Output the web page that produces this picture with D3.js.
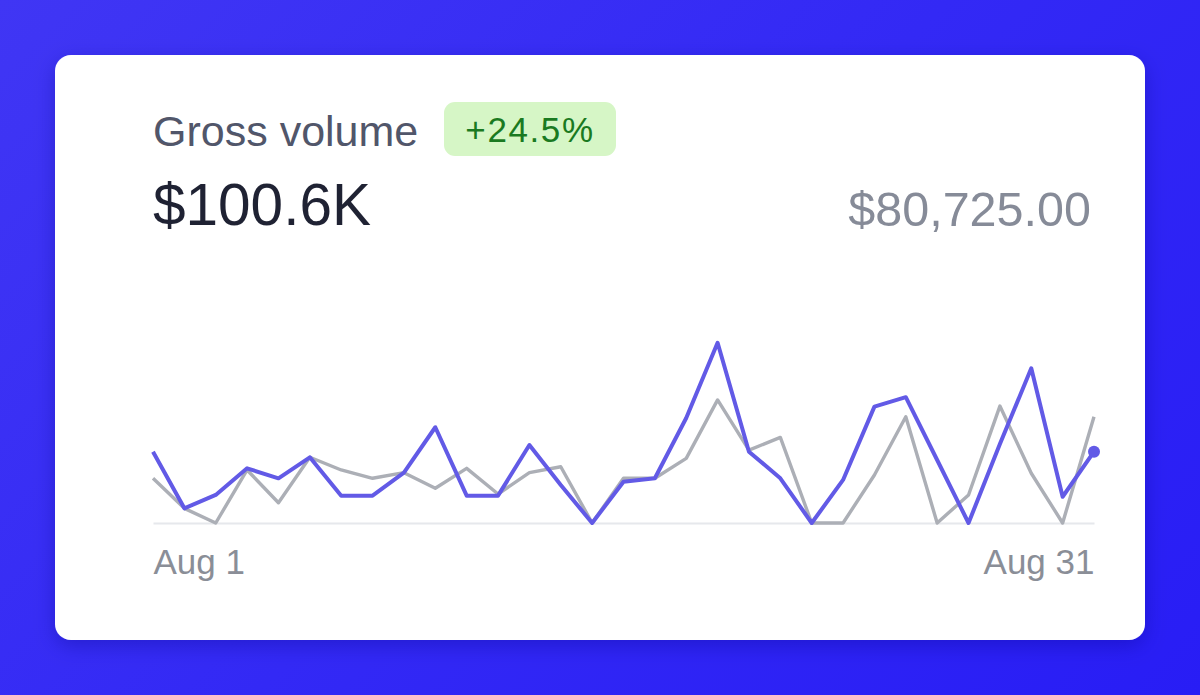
<!DOCTYPE html>
<html>
<head>
<meta charset="utf-8">
<script src="https://cdn.jsdelivr.net/npm/d3@7"></script>
<style>
  html, body { margin: 0; padding: 0; width: 1200px; height: 695px; overflow: hidden; }
  body { background: linear-gradient(135deg, #4036f4 0%, #3329f5 50%, #281df5 100%); }
  svg { display: block; font-family: "Liberation Sans", Arial, Helvetica, sans-serif; }
</style>
</head>
<body>
<svg id="chart" width="1200" height="695"></svg>
<script>
// ---- data ----
const dayLabels = ["Aug 1", "Aug 31"];
const days = ["Aug 1","Aug 2","Aug 3","Aug 4","Aug 5","Aug 6","Aug 7","Aug 8","Aug 9","Aug 10",
  "Aug 11","Aug 12","Aug 13","Aug 14","Aug 15","Aug 16","Aug 17","Aug 18","Aug 19","Aug 20",
  "Aug 21","Aug 22","Aug 23","Aug 24","Aug 25","Aug 26","Aug 27","Aug 28","Aug 29","Aug 30","Aug 31"];
const currentValues = [3940, 810, 1550, 3020, 2470, 3630, 1510, 1510, 2780, 5290,
  1510, 1510, 4310, 2100, 0, 2280, 2470, 5800, 9960, 3940,
  2470, 0, 2380, 6430, 6950, 3480, 0, 4360, 8550, 1450, 3940];
const previousValues = [2470, 810, 0, 2930, 1120, 3630, 2930, 2470, 2780, 1920,
  3020, 1600, 2780, 3110, 0, 2470, 2470, 3570, 6800, 4030,
  4730, 0, 0, 2650, 5870, 0, 1550, 6460, 2750, 0, 5870];
const titleText = "Gross volume";
const changeText = "+24.5%";
const currentTotal = "$100.6K";
const previousTotal = "$80,725.00";

// ---- drawing ----
const svg = d3.select("#chart");

const defs = svg.append("defs");
const f = defs.append("filter").attr("id", "shadow").attr("x", "-10%").attr("y", "-10%").attr("width", "120%").attr("height", "130%");
f.append("feDropShadow").attr("dx", 0).attr("dy", 6).attr("stdDeviation", 10)
  .attr("flood-color", "#10087a").attr("flood-opacity", 0.3);

// card
svg.append("rect")
  .attr("x", 55).attr("y", 55).attr("width", 1090).attr("height", 585)
  .attr("rx", 16).attr("ry", 16)
  .attr("fill", "#ffffff")
  .attr("filter", "url(#shadow)");

// header
svg.append("text")
  .attr("x", 153).attr("y", 146)
  .attr("font-size", 43).attr("fill", "#51566a")
  .text(titleText);

svg.append("rect")
  .attr("x", 444).attr("y", 102).attr("width", 172).attr("height", 54)
  .attr("rx", 11).attr("fill", "#d6f6c6");
svg.append("text")
  .attr("x", 530).attr("y", 142)
  .attr("text-anchor", "middle")
  .attr("font-size", 35).attr("letter-spacing", 1.6)
  .attr("fill", "#1a7a21")
  .text(changeText);

svg.append("text")
  .attr("x", 153).attr("y", 225)
  .attr("font-size", 58.5).attr("fill", "#1f2233")
  .text(currentTotal);

svg.append("text")
  .attr("x", 1091).attr("y", 226)
  .attr("text-anchor", "end")
  .attr("font-size", 48.5).attr("fill", "#868b98")
  .text(previousTotal);

// scales
const x = d3.scalePoint().domain(days).range([153, 1094]);
const y = d3.scaleLinear().domain([0, 10000]).range([523, 342]);

// baseline axis
const axis = d3.axisBottom(x)
  .tickValues([days[0], days[days.length - 1]])
  .tickFormat((d, i) => dayLabels[i])
  .tickSize(0)
  .tickPadding(26);
const ax = svg.append("g").attr("transform", `translate(0,${y(0)})`).call(axis);
ax.select(".domain").attr("stroke", "#e6e8ec").attr("stroke-width", 2);
ax.selectAll("text")
  .attr("font-size", 35)
  .attr("fill", "#8a8e97")
  .attr("font-family", "'Liberation Sans', Arial, sans-serif")
  .attr("dy", "0.71em")
  .attr("text-anchor", (d, i) => i === 0 ? "start" : "end");

// lines
const line = d3.line()
  .x((d, i) => x(days[i]))
  .y(d => y(d));

svg.append("path")
  .datum(previousValues)
  .attr("fill", "none")
  .attr("stroke", "#acafb6")
  .attr("stroke-width", 3.4)
  .attr("stroke-linejoin", "round")
  .attr("d", line);

svg.append("path")
  .datum(currentValues)
  .attr("fill", "none")
  .attr("stroke", "#625ae6")
  .attr("stroke-width", 4)
  .attr("stroke-linejoin", "round")
  .attr("d", line);

svg.append("circle")
  .attr("cx", x(days[days.length - 1]))
  .attr("cy", y(currentValues[currentValues.length - 1]))
  .attr("r", 6)
  .attr("fill", "#625ae6");
</script>
</body>
</html>
